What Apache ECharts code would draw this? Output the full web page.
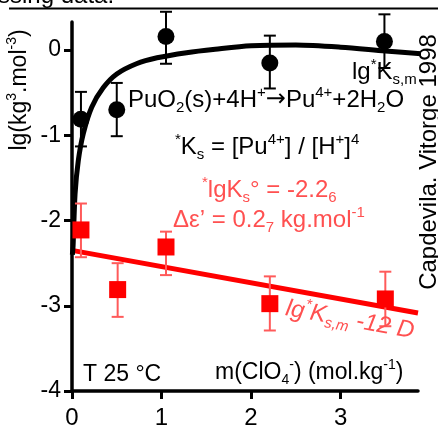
<!DOCTYPE html>
<html><head><meta charset="utf-8">
<script src="https://cdn.jsdelivr.net/npm/echarts@6/dist/echarts.min.js"></script>
<style>html,body{margin:0;padding:0;background:#fff}#c{width:438px;height:430px}</style>
</head><body><div id="c"></div>
<script>
// ---- data ----
const xTicks = [0, 1, 2, 3];
const yTicks = [-4, -3, -2, -1, 0];
// black circles: lg*Ks,m
const blackX = [0.1, 0.5, 1.05, 2.21, 3.49];
const blackY = [-0.81, -0.70, 0.16, -0.15, 0.10];
const blackLow = [-1.13, -1.01, -0.16, -0.45, -0.21];
const blackHigh = [-0.49, -0.385, 0.45, 0.17, 0.42];
// red squares: lg*Ks,m - 12 D
const redX = [0.1, 0.51, 1.05, 2.21, 3.5];
const redY = [-2.11, -2.81, -2.31, -2.975, -2.92];
const redLow = [-2.43, -3.13, -2.64, -3.29, -3.24];
const redHigh = [-1.80, -2.50, -2.13, -2.655, -2.60];
// black fitted curve
const curveX = [0.004, 0.012, 0.034, 0.07, 0.126, 0.22, 0.35, 0.5, 0.72, 0.95, 1.28, 1.6, 2.0, 2.5, 3.0, 3.5, 3.93];
const curveY = [-2.40, -2.30, -1.69, -1.30, -0.98, -0.67, -0.44, -0.28, -0.16, -0.09, -0.03, 0.01, 0.05, 0.06, 0.035, -0.01, -0.045];
// red straight line (SIT)
const lineX = [0, 3.865];
const lineY = [-2.35, -3.085];

const F = "'Liberation Sans', Arial, sans-serif";
const RED_T = '#ff5050';

function zip(a, b) { return a.map((v, i) => [v, b[i]]); }
function zip3(a, b, c) { return a.map((v, i) => [v, b[i], c[i]]); }

function rich(color, size, italic) {
  const fs = italic ? 'italic' : 'normal';
  const s = Math.round(size * 0.62);
  return {
    n: { fontSize: size, fontFamily: F, fill: color, lineHeight: size + 6, fontStyle: fs },
    arr: { fontSize: size, fontFamily: "'DejaVu Sans', sans-serif", fill: color, lineHeight: size + 6 },
    sup: { fontSize: s, fontFamily: F, fill: color, verticalAlign: 'top', lineHeight: s, fontStyle: fs },
    sub: { fontSize: s, fontFamily: F, fill: color, verticalAlign: 'bottom', lineHeight: s, fontStyle: fs }
  };
}
function txt(x, y, text, color, size, opts) {
  opts = opts || {};
  return {
    type: 'text', x: x, y: y, rotation: opts.rot || 0, z: 100,
    style: {
      text: text, rich: rich(color, size, opts.italic),
      fill: color, font: size + 'px ' + F,
      align: opts.align || 'left', verticalAlign: 'middle'
    }
  };
}

function errRender(color) {
  return function (params, api) {
    const x = api.value(0);
    const lo = api.coord([x, api.value(1)]);
    const hi = api.coord([x, api.value(2)]);
    const w = 6;
    const st = { stroke: color, lineWidth: 2 };
    return {
      type: 'group',
      children: [
        { type: 'line', shape: { x1: lo[0], y1: lo[1], x2: hi[0], y2: hi[1] }, style: st },
        { type: 'line', shape: { x1: lo[0] - w, y1: lo[1], x2: lo[0] + w, y2: lo[1] }, style: st },
        { type: 'line', shape: { x1: hi[0] - w, y1: hi[1], x2: hi[0] + w, y2: hi[1] }, style: st }
      ]
    };
  };
}

const chart = echarts.init(document.getElementById('c'), null, { renderer: 'canvas' });
chart.setOption({
  animation: false,
  backgroundColor: '#fff',
  grid: { left: 72, top: 22, width: 346, height: 369 },
  xAxis: {
    type: 'value', min: 0, max: 3.865, interval: 1,
    splitLine: { show: false },
    axisLine: { onZero: false, lineStyle: { color: '#000', width: 3.5 } },
    axisTick: { show: true, length: 8, lineStyle: { color: '#000', width: 3 }, customValues: xTicks },
    axisLabel: { color: '#000', fontSize: 24, fontFamily: F, margin: 15, customValues: xTicks }
  },
  yAxis: {
    type: 'value', min: -4, max: 0.33, interval: 1,
    splitLine: { show: false },
    axisLine: { onZero: false, lineStyle: { color: '#000', width: 3.5 } },
    axisTick: { show: true, length: 8, lineStyle: { color: '#000', width: 3 }, customValues: yTicks },
    axisLabel: { color: '#000', fontSize: 23, fontFamily: F, margin: 11, customValues: yTicks }
  },
  series: [
    { type: 'line', data: zip(lineX, lineY), symbol: 'none', lineStyle: { color: '#ff0000', width: 5 }, z: 2 },
    { type: 'line', data: zip(curveX, curveY), symbol: 'none', smooth: 0.3, clip: false, lineStyle: { color: '#000', width: 5 }, z: 3 },
    { type: 'custom', data: zip3(redX, redLow, redHigh), renderItem: errRender('#ff5a5a'), z: 4 },
    { type: 'custom', data: zip3(blackX, blackLow, blackHigh), renderItem: errRender('#000'), z: 4 },
    { type: 'scatter', data: zip(redX, redY), symbol: 'rect', symbolSize: 17, itemStyle: { color: '#ff0000', opacity: 1 }, z: 5 },
    { type: 'scatter', data: zip(blackX, blackY), symbol: 'circle', symbolSize: 17, itemStyle: { color: '#000', opacity: 1 }, z: 5 }
  ],
  graphic: [
    { type: 'line', shape: { x1: 9, y1: 8.5, x2: 438, y2: 8.5 }, style: { stroke: '#000', lineWidth: 2 } },
    { type: 'text', x: -2, y: 8, style: { text: 'ssing data.', font: '24px ' + F, fill: '#000', align: 'left', verticalAlign: 'bottom' } },
    txt(20, 90, '{n|lg(kg}{sup|3}{n|.mol}{sup|-3}{n|)}', '#000', 23, { rot: Math.PI / 2, align: 'center' }),
    txt(429, 162, '{n|Capdevila. Vitorge 1998}', '#000', 24, { rot: Math.PI / 2, align: 'center' }),
    txt(352, 72, '{n|lg}{sup|*}{n|K}{sub|s,m}', '#000', 24),
    txt(128, 100, '{n|PuO}{sub|2}{n|(s)+4H}{sup|+}{arr|→}{n|Pu}{sup|4+}{n|+2H}{sub|2}{n|O}', '#000', 24),
    txt(175, 147, '{sup|*}{n|K}{sub|s}{n| = [Pu}{sup|4+}{n|] / [H}{sup|+}{n|]}{sup|4}', '#000', 24),
    txt(202, 190, '{sup|*}{n|lgK}{sub|s}{n|° = -2.2}{sub|6}', RED_T, 24),
    txt(173, 220, '{n|Δε’ = 0.2}{sub|7}{n| kg.mol}{sup|-1}', RED_T, 24),
    txt(350, 320, '{n|lg}{sup|*}{n|K}{sub|s,m}{n| -12 D}', RED_T, 24, { rot: -0.18, align: 'center', italic: true }),
    txt(83, 375, '{n|T 25 °C}', '#000', 23),
    txt(215, 373, '{n|m(ClO}{sub|4}{sup|-}{n|) (mol.kg}{sup|-1}{n|)}', '#000', 23)
  ]
});
</script></body></html>
